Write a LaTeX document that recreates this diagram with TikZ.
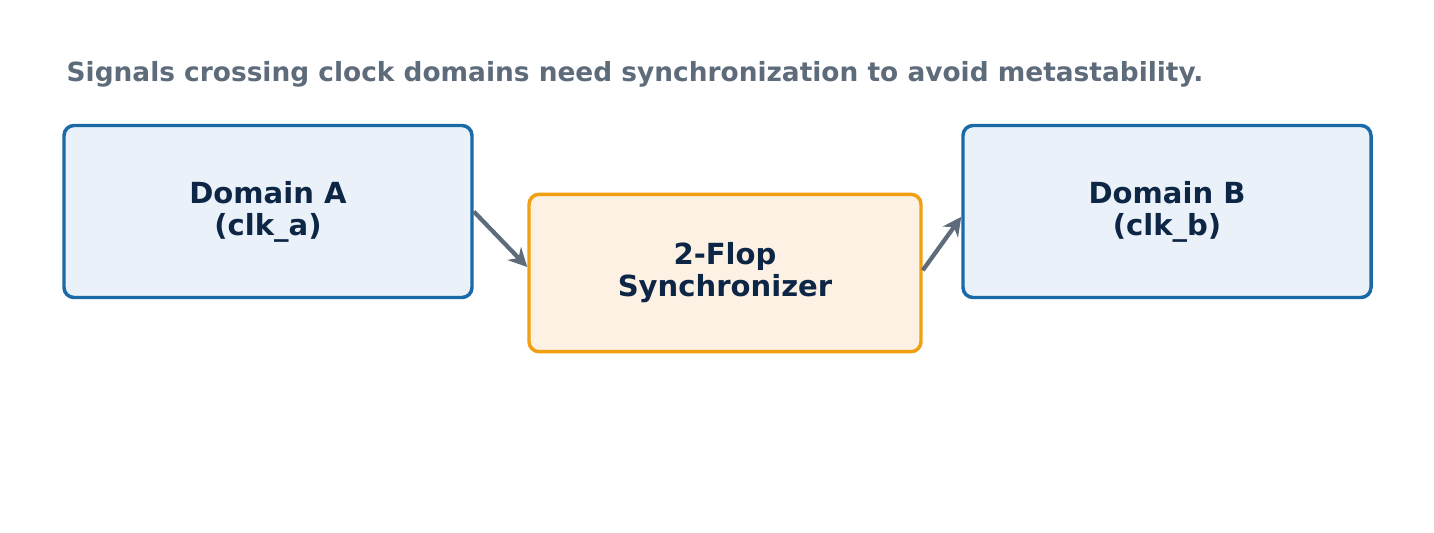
\documentclass[tikz,border=0pt]{standalone}
\usepackage{fontspec}
\setmainfont{DejaVu Sans}
\usetikzlibrary{positioning,arrows.meta}
\definecolor{domainline}{HTML}{1A6AA8}
\definecolor{domainfill}{HTML}{EAF1F8}
\definecolor{syncline}{HTML}{F0A010}
\definecolor{syncfill}{HTML}{FDF1E4}
\definecolor{textdark}{HTML}{0D2645}
\definecolor{greyish}{HTML}{5D6B7A}
\tikzset{
	domainbox/.style={rectangle, rounded corners=7.5pt, draw=domainline, fill=domainfill,
		line width=2.6pt, minimum width=306pt, minimum height=129pt,
		text=textdark, font=\bfseries\fontsize{21.8}{24}\selectfont, align=center},
	syncbox/.style={rectangle, rounded corners=7.5pt, draw=syncline, fill=syncfill,
		line width=2.6pt, minimum width=294pt, minimum height=118pt,
		text=textdark, font=\bfseries\fontsize{21.8}{24}\selectfont, align=center},
	flow/.style={draw=greyish, line width=3.2pt, -{Stealth[length=14pt,width=14pt]}}
}
\begin{document}
\begin{tikzpicture}[x=0.75pt,y=-0.75pt]
	\useasboundingbox (0,0) rectangle (1434,532);
	\node[anchor=west, text=greyish, font=\bfseries\fontsize{19.8}{22}\selectfont] (caption) at (62,74) {Signals crossing clock domains need synchronization to avoid metastability.};
	
	\node[domainbox] (doma) at (268,211.5) {Domain A\\(clk\_a)};
	\node[syncbox] (flop) at (725,273) {2-Flop\\Synchronizer};
	\node[domainbox] (domb) at (1167,211.5) {Domain B\\(clk\_b)};
	
	\draw[flow] (doma.east) -- ([yshift=4.5pt]flop.west);
	\draw[flow] ([yshift=2pt]flop.east) -- ([yshift=-4pt]domb.west);
\end{tikzpicture}
\end{document}
